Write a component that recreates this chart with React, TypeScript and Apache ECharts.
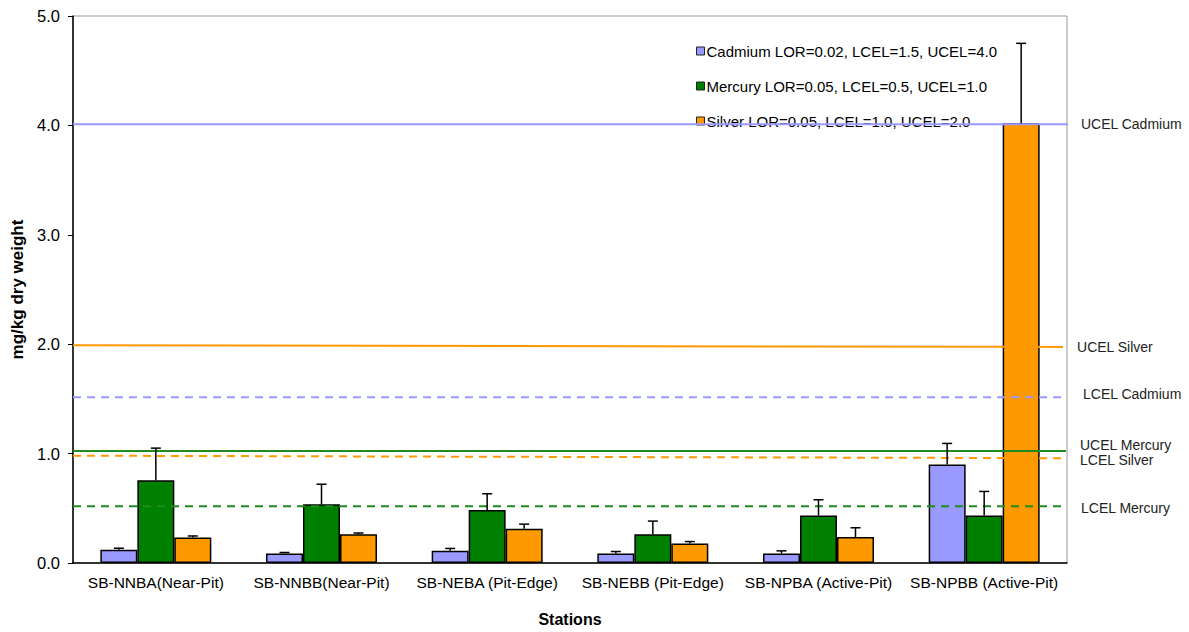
import React, { useEffect, useRef } from "react";
import * as echarts from "echarts";

const stations = [
  "SB-NNBA(Near-Pit)",
  "SB-NNBB(Near-Pit)",
  "SB-NEBA (Pit-Edge)",
  "SB-NEBB (Pit-Edge)",
  "SB-NPBA (Active-Pit)",
  "SB-NPBB (Active-Pit)",
];

const seriesNames = [
  "Cadmium LOR=0.02, LCEL=1.5, UCEL=4.0",
  "Mercury LOR=0.05, LCEL=0.5, UCEL=1.0",
  "Silver LOR=0.05, LCEL=1.0, UCEL=2.0",
];

const cadmium = [0.12, 0.087, 0.111, 0.087, 0.087, 0.9];
const cadmiumErr = [0.135, 0.096, 0.133, 0.105, 0.111, 1.093];
const mercury = [0.756, 0.536, 0.485, 0.262, 0.434, 0.434];
const mercuryErr = [1.05, 0.72, 0.633, 0.383, 0.578, 0.654];
const silver = [0.232, 0.262, 0.313, 0.178, 0.238, 4.02];
const silverErr = [0.247, 0.274, 0.355, 0.196, 0.322, 4.75];

const limitNames = ["UCEL Cadmium", "UCEL Silver", "LCEL Cadmium", "UCEL Mercury", "LCEL Silver", "LCEL Mercury"];
const limitStart = [4.01, 1.99, 1.515, 1.024, 0.981, 0.518];
const limitEnd = [4.01, 1.975, 1.515, 1.024, 0.958, 0.518];

const yTicks = [0, 1, 2, 3, 4, 5];

const barColors = ["#9999FF", "#008000", "#FF9900"];
const limitColors = ["#9999FF", "#FF9900", "#9999FF", "#1E8C1E", "#FF9900", "#1E8C1E"];
const limitDashed = [false, false, true, false, true, true];
const limitEndX = [1.005, 0.996, 0.999, 0.999, 0.999, 0.999];
const limitLabelOffset = [
  [13, 0],
  [14, 0],
  [17, -3],
  [14, -6],
  [14, 2],
  [15, 2],
];

const FONT = "'Liberation Sans', Arial, sans-serif";
const CAT_GAP = 0.33;

export default function App() {
  const ref = useRef<HTMLDivElement>(null);

  useEffect(() => {
    if (!ref.current) return;
    const chart = echarts.init(ref.current, undefined, { renderer: "svg" });

    const values = [cadmium, mercury, silver];
    const errs = [cadmiumErr, mercuryErr, silverErr];

    const barSeries = values.map((vals, i) => ({
      type: "bar",
      name: seriesNames[i],
      data: vals,
      barGap: "0%",
      barCategoryGap: CAT_GAP * 100 + "%",
      itemStyle: { color: barColors[i], borderColor: "#000", borderWidth: 1.5 },
      z: 2,
    }));

    const errSeries = values.map((vals, i) => ({
      type: "custom",
      name: "err" + i,
      z: 5,
      renderItem: (params: any, api: any) => {
        const idx = api.value(0);
        const v = api.value(1);
        const e = api.value(2);
        const catW = api.size([1, 0])[0];
        const bw = (catW * (1 - CAT_GAP)) / 3;
        const base = api.coord([idx, v]);
        const top = api.coord([idx, e]);
        const x = base[0] + (i - 1) * bw;
        const cap = 5;
        const st = { stroke: "#000", lineWidth: 1.5 };
        return {
          type: "group",
          children: [
            { type: "line", shape: { x1: x, y1: base[1], x2: x, y2: top[1] }, style: st },
            { type: "line", shape: { x1: x - cap, y1: top[1], x2: x + cap, y2: top[1] }, style: st },
          ],
        };
      },
      encode: { x: 0, y: 1 },
      data: vals.map((v, k) => [k, v, errs[i][k]]),
    }));

    const limitSeries = limitNames.map((n, i) => ({
      type: "line",
      name: n,
      xAxisIndex: 1,
      yAxisIndex: 0,
      symbol: "none",
      silent: true,
      z: 4,
      lineStyle: {
        color: limitColors[i],
        width: 2,
        type: limitDashed[i] ? [8, 6] : "solid",
      },
      endLabel: {
        show: true,
        formatter: () => n,
        color: "#222",
        fontSize: 14,
        fontFamily: FONT,
        distance: 0,
        offset: limitLabelOffset[i],
      },
      data: [
        [0, limitStart[i]],
        [limitEndX[i], limitEnd[i]],
      ],
    }));

    chart.setOption({
      animation: false,
      textStyle: { fontFamily: FONT },
      grid: {
        left: 73,
        right: 122,
        top: 16,
        bottom: 63,
        show: true,
        borderColor: "#999",
        borderWidth: 1,
      },
      legend: {
        data: seriesNames,
        orient: "vertical",
        left: 691,
        top: 38,
        itemWidth: 8,
        itemHeight: 8,
        itemGap: 19,
        icon: "rect",
        itemStyle: { borderColor: "#222", borderWidth: 1 },
        textStyle: {
          fontSize: 15,
          lineHeight: 16,
          color: "#000",
          fontFamily: FONT,
          padding: [0, 0, 0, -3],
        },
        selectedMode: false,
      },
      xAxis: [
        {
          type: "category",
          data: stations,
          name: "Stations",
          nameLocation: "middle",
          nameGap: 48,
          nameTextStyle: { fontWeight: "bold", fontSize: 16, color: "#000" },
          axisLine: { lineStyle: { color: "#000", width: 1.5 } },
          axisTick: { length: 5, lineStyle: { color: "#000" } },
          axisLabel: { fontSize: 15.5, color: "#000", margin: 11, interval: 0 },
        },
        {
          type: "value",
          min: 0,
          max: 1,
          show: false,
        },
      ],
      yAxis: {
        type: "value",
        min: yTicks[0],
        max: yTicks[yTicks.length - 1],
        interval: 1,
        name: "mg/kg dry weight",
        nameLocation: "middle",
        nameGap: 41,
        nameTextStyle: { fontWeight: "bold", fontSize: 17, color: "#000" },
        axisLine: { show: true, lineStyle: { color: "#000", width: 1.5 } },
        axisTick: { show: true, length: 5, lineStyle: { color: "#000" } },
        splitLine: { show: false },
        axisLabel: {
          fontSize: 16.5,
          color: "#000",
          margin: 13,
          formatter: (v: number) => v.toFixed(1),
        },
      },
      series: [...barSeries, ...limitSeries, ...errSeries],
    });

    return () => chart.dispose();
  }, []);

  return <div ref={ref} style={{ width: 1189, height: 632, position: "absolute", left: 0, top: 0 }} />;
}
